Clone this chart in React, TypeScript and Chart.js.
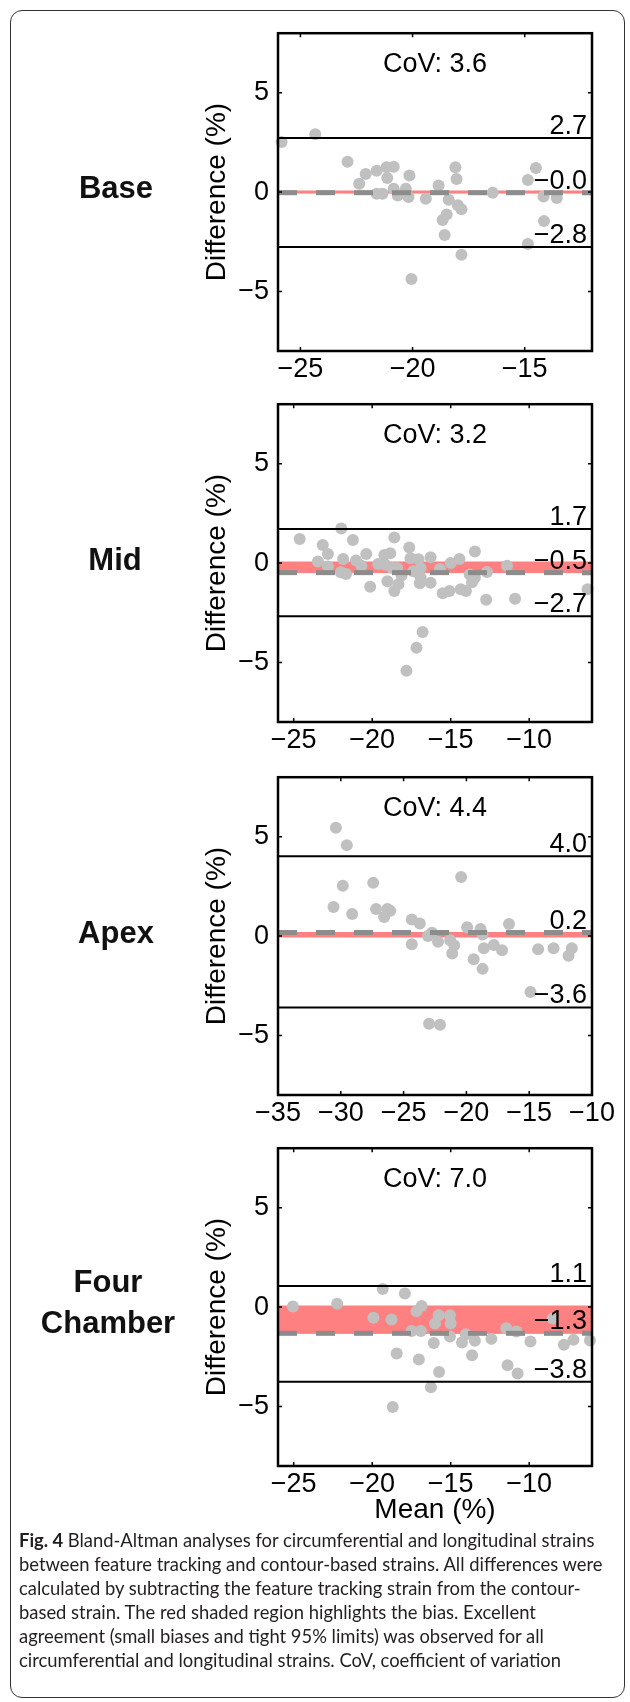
import React, { useEffect, useRef } from 'react';
import { Chart, registerables } from 'chart.js';

Chart.register(...registerables);

// ---------- data ----------
const panelNames: string[][] = [['Base'], ['Mid'], ['Apex'], ['Four', 'Chamber']];
const covValues = [3.6, 3.2, 4.4, 7.0];
const biasValues = [-0.03, -0.48, 0.18, -1.32];
const upperLimits = [2.72, 1.72, 4.02, 1.06];
const lowerLimits = [-2.76, -2.68, -3.59, -3.76];
const xRanges = [[-26, -12], [-26, -6], [-35, -10], [-26, -6]];
const xTickValues = [
  [-25, -20, -15],
  [-25, -20, -15, -10],
  [-35, -30, -25, -20, -15, -10],
  [-25, -20, -15, -10],
];
const yTickValues = [-5, 0, 5];
const yRange = [-8, 8];
const yTitle = 'Difference (%)';
const xTitle = 'Mean (%)';

const baseMeans = [-25.84, -24.34, -22.9, -22.38, -22.09, -21.6, -21.6, -21.34, -21.16, -21.13, -20.84, -20.84, -20.66, -20.3, -20.18, -20.14, -20.05, -19.41, -18.84, -18.39, -18.57, -18.48, -18.66, -18.09, -18.04, -17.98, -17.82, -17.82, -16.43, -14.86, -14.86, -14.5, -14.16, -14.14, -13.57];
const baseDiffs = [2.52, 2.91, 1.53, 0.42, 0.91, 1.08, -0.08, -0.08, 1.25, 0.71, 1.28, 0.17, -0.17, 0.17, -0.25, 0.83, -4.37, -0.33, 0.33, -0.38, -2.16, -1.13, -1.41, 1.25, 0.66, -0.66, -0.86, -3.16, -0.03, 0.61, -2.61, 1.21, -0.22, -1.45, -0.3];

const midMeans = [-24.62, -23.15, -23.46, -22.82, -22.82, -21.97, -21.85, -22.0, -21.67, -21.23, -21.03, -20.69, -20.38, -20.13, -19.62, -19.23, -19.18, -18.85, -19.03, -18.72, -18.59, -18.59, -18.41, -18.33, -18.13, -17.82, -17.64, -17.56, -17.38, -17.18, -17.05, -16.97, -16.92, -16.79, -16.28, -16.28, -16.92, -15.69, -15.51, -15.08, -15.0, -14.44, -14.36, -14.03, -13.79, -13.64, -13.46, -13.46, -12.69, -12.74, -11.41, -10.9, -6.28];
const midDiffs = [1.21, 0.91, 0.08, 0.46, -0.17, 1.74, 0.21, -0.46, -0.55, 1.16, 0.13, -0.13, 0.46, -1.19, -0.05, 0.41, -0.08, 0.5, -0.91, -0.25, 1.29, -1.4, -0.25, -1.07, -0.63, -5.42, 0.78, 0.25, -0.41, -4.26, 0.2, -1.02, -0.25, -3.47, 0.3, -0.99, -0.71, -0.3, -1.52, -1.4, 0.0, 0.21, -1.32, -1.4, -0.58, -0.96, 0.58, -0.74, -0.45, -1.85, -0.13, -1.79, -1.32];

const apexMeans = [-30.39, -29.52, -29.84, -30.58, -29.1, -27.42, -27.19, -26.29, -26.55, -26.06, -24.35, -23.71, -24.35, -23.06, -22.74, -22.97, -22.1, -22.26, -21.29, -20.97, -21.13, -20.42, -19.94, -18.87, -18.71, -19.42, -18.71, -18.61, -17.81, -17.16, -16.61, -14.9, -14.29, -13.06, -11.87, -11.61];
const apexDiffs = [5.46, 4.58, 2.53, 1.46, 1.11, 2.68, 1.37, 1.37, 0.96, 1.27, 0.83, 0.63, -0.41, 0.0, 0.17, -4.41, -4.46, -0.28, -0.21, -0.46, -0.88, 2.98, 0.45, 0.36, 0.08, -1.16, -1.65, -0.61, -0.45, -0.71, 0.61, -2.81, -0.66, -0.61, -0.99, -0.61];

const fourMeans = [-25.05, -22.23, -19.92, -19.33, -18.77, -18.44, -18.69, -17.92, -17.49, -17.18, -16.85, -16.9, -17.03, -16.26, -16.08, -16.0, -15.77, -15.74, -15.05, -15.0, -15.05, -14.28, -14.03, -13.64, -13.46, -12.41, -11.46, -11.38, -10.82, -10.74, -9.92, -8.51, -7.79, -7.18, -6.13];
const fourDiffs = [0.03, 0.17, -0.54, 0.91, -0.63, -2.34, -5.03, 0.69, -1.2, -0.21, 0.05, -1.2, -2.64, -4.04, -1.81, -0.82, -0.41, -3.27, -0.41, -0.82, -1.48, -1.78, -1.37, -2.42, -1.69, -1.6, -1.07, -2.93, -1.23, -3.34, -1.73, -0.58, -1.89, -1.65, -1.68];

const panelMeans = [baseMeans, midMeans, apexMeans, fourMeans];
const panelDiffs = [baseDiffs, midDiffs, apexDiffs, fourDiffs];

// ---------- layout / style ----------
const FONT = '"Liberation Sans", Arial, Helvetica, sans-serif';
const TICK_SIZE = 27;
const TITLE_SIZE = 28;
const plotTops = [28, 399, 772, 1143];
const plotHeight = 323;
const CANVAS_LEFT = 180;
const CANVAS_W = 450;
const AREA_LEFT = 98; // 278 absolute
const AREA_RIGHT_PAD = 38; // right edge at 592
const TOP_PAD = 20;
const labelCentersX = [116, 115, 116, 108];
const labelCentersY = [187, 559, 932, 1302];
const RED = 'rgb(255,128,128)';
const POINT = 'rgb(192,192,192)';
const DASH = 'rgb(140,140,140)';

const fmtVal = (v: number) => (v < 0 ? '\u2212' : '') + Math.abs(v).toFixed(1);
const fmtTick = (v: number) => (v < 0 ? '\u2212' + Math.abs(v) : String(v));

const overlayPlugin = {
  id: 'overlay',
  afterDatasetsDraw(chart: any, _args: any, opts: any) {
    const { ctx, chartArea, scales } = chart;
    const { left, right, top, bottom } = chartArea;
    const x = scales.x;
    const y = scales.y;
    ctx.save();
    ctx.fillStyle = '#000';
    ctx.font = `${TICK_SIZE}px ${FONT}`;
    ctx.textAlign = 'center';
    ctx.textBaseline = 'middle';
    ctx.fillText('CoV: ' + Number(opts.cov).toFixed(1), (left + right) / 2, top + 31);
    ctx.textAlign = 'right';
    ctx.textBaseline = 'alphabetic';
    [opts.upper, opts.bias, opts.lower].forEach((v: number) => {
      ctx.fillText(fmtVal(v), right - 5, y.getPixelForValue(v) - 4);
    });
    ctx.strokeStyle = '#000';
    ctx.lineWidth = 2.5;
    ctx.strokeRect(left, top, right - left, bottom - top);
    ctx.lineWidth = 1.5;
    ctx.beginPath();
    (opts.xticks as number[]).forEach((v) => {
      const px = x.getPixelForValue(v);
      ctx.moveTo(px, top);
      ctx.lineTo(px, top + 4);
      ctx.moveTo(px, bottom);
      ctx.lineTo(px, bottom - 4);
    });
    (opts.yticks as number[]).forEach((v) => {
      const py = y.getPixelForValue(v);
      ctx.moveTo(left, py);
      ctx.lineTo(left + 4, py);
      ctx.moveTo(right, py);
      ctx.lineTo(right - 4, py);
    });
    ctx.stroke();
    ctx.restore();
  },
};

function Panel({ idx }: { idx: number }) {
  const ref = useRef<HTMLCanvasElement | null>(null);
  const isLast = idx === 3;
  const xAxisH = isLast ? 64 : 50;
  const height = TOP_PAD + plotHeight + xAxisH;

  useEffect(() => {
    if (!ref.current) return;
    const [xmin, xmax] = xRanges[idx];
    const bias = biasValues[idx];
    const up = upperLimits[idx];
    const lo = lowerLimits[idx];
    const hline = (v: number) => [
      { x: xmin, y: v },
      { x: xmax, y: v },
    ];
    const points = panelMeans[idx].map((m, i) => ({ x: m, y: panelDiffs[idx][i] }));
    const chart = new Chart(ref.current, {
      type: 'scatter',
      data: {
        datasets: [
          {
            type: 'line',
            label: 'zero',
            data: hline(0),
            borderColor: RED,
            borderWidth: 3,
            pointRadius: 0,
            fill: '+1',
            backgroundColor: RED,
            order: 10,
          } as any,
          {
            type: 'line',
            label: 'biasEdge',
            data: hline(bias),
            borderColor: RED,
            borderWidth: 1,
            pointRadius: 0,
            fill: false,
            order: 9,
          } as any,
          {
            type: 'scatter',
            label: 'points',
            data: points,
            backgroundColor: POINT,
            borderWidth: 0,
            pointRadius: 6,
            pointHoverRadius: 6,
            clip: false,
            order: 5,
          } as any,
          {
            type: 'line',
            label: 'bias',
            data: hline(bias),
            borderColor: DASH,
            borderWidth: 5,
            borderDash: [19, 19],
            pointRadius: 0,
            fill: false,
            order: 3,
          } as any,
          {
            type: 'line',
            label: 'upper',
            data: hline(up),
            borderColor: '#000',
            borderWidth: 2,
            pointRadius: 0,
            fill: false,
            order: 2,
          } as any,
          {
            type: 'line',
            label: 'lower',
            data: hline(lo),
            borderColor: '#000',
            borderWidth: 2,
            pointRadius: 0,
            fill: false,
            order: 2,
          } as any,
        ],
      },
      options: {
        responsive: false,
        animation: false,
        events: [],
        layout: { padding: { top: TOP_PAD, right: AREA_RIGHT_PAD, left: 0, bottom: 0 } },
        plugins: {
          legend: { display: false },
          tooltip: { enabled: false },
          overlay: {
            cov: covValues[idx],
            bias,
            upper: up,
            lower: lo,
            xticks: xTickValues[idx],
            yticks: yTickValues,
          },
        } as any,
        scales: {
          x: {
            type: 'linear',
            min: xmin,
            max: xmax,
            afterBuildTicks: (s: any) => {
              s.ticks = xTickValues[idx].map((v) => ({ value: v }));
            },
            afterFit: (s: any) => {
              s.height = xAxisH;
            },
            grid: { display: false, drawTicks: false },
            border: { display: false },
            ticks: {
              font: { family: FONT, size: TICK_SIZE },
              color: '#000',
              padding: 2,
              maxRotation: 0,
              autoSkip: false,
              callback: (v: any) => fmtTick(Number(v)),
            },
            title: {
              display: isLast,
              text: xTitle,
              color: '#000',
              font: { family: FONT, size: TITLE_SIZE },
              padding: { top: 0, bottom: 3 },
            },
          },
          y: {
            type: 'linear',
            min: yRange[0],
            max: yRange[1],
            afterBuildTicks: (s: any) => {
              s.ticks = yTickValues.map((v) => ({ value: v }));
            },
            afterFit: (s: any) => {
              s.width = AREA_LEFT;
            },
            grid: { display: false, drawTicks: false },
            border: { display: false },
            ticks: {
              font: { family: FONT, size: TICK_SIZE },
              color: '#000',
              padding: 9,
              autoSkip: false,
              callback: (v: any) => fmtTick(Number(v)),
            },
            title: {
              display: true,
              text: yTitle,
              color: '#000',
              font: { family: FONT, size: TITLE_SIZE },
              padding: { top: 20, bottom: 0 },
            },
          },
        },
      },
      plugins: [overlayPlugin as any],
    });
    return () => chart.destroy();
  }, [idx]);

  return (
    <>
      <canvas
        ref={ref}
        width={CANVAS_W}
        height={height}
        style={{
          position: 'absolute',
          left: CANVAS_LEFT,
          top: plotTops[idx] - TOP_PAD,
          width: CANVAS_W,
          height,
        }}
      />
      <div
        style={{
          position: 'absolute',
          left: labelCentersX[idx] - 100,
          width: 200,
          top: labelCentersY[idx] - (panelNames[idx].length * 41) / 2,
          textAlign: 'center',
          font: `bold 31px/41px ${FONT}`,
          color: '#111',
        }}
      >
        {panelNames[idx].map((t, i) => (
          <div key={i}>{t}</div>
        ))}
      </div>
    </>
  );
}

const captionLines = [
  'Bland-Altman analyses for circumferential and longitudinal strains',
  'between feature tracking and contour-based strains. All differences were',
  'calculated by subtracting the feature tracking strain from the contour-',
  'based strain. The red shaded region highlights the bias. Excellent',
  'agreement (small biases and tight 95% limits) was observed for all',
  'circumferential and longitudinal strains. CoV, coefficient of variation',
];

export default function App() {
  return (
    <div style={{ position: 'absolute', left: 0, top: 0, width: 630, height: 1702, background: '#fff', overflow: 'hidden' }}>
      <div
        style={{
          position: 'absolute',
          left: 10,
          top: 10,
          width: 615,
          height: 1688,
          border: '1.5px solid #333',
          borderRadius: 12,
          boxSizing: 'border-box',
        }}
      />
      {[0, 1, 2, 3].map((i) => (
        <Panel key={i} idx={i} />
      ))}
      <div
        style={{
          position: 'absolute',
          left: 19,
          top: 1528,
          font: `18.4px/24px Lato, "Noto Sans", sans-serif`,
          color: '#231f20',
          whiteSpace: 'nowrap',
        }}
      >
        {captionLines.map((l, i) => (
          <div key={i}>
            {i === 0 ? <b>Fig. 4 </b> : null}
            {l}
          </div>
        ))}
      </div>
    </div>
  );
}
